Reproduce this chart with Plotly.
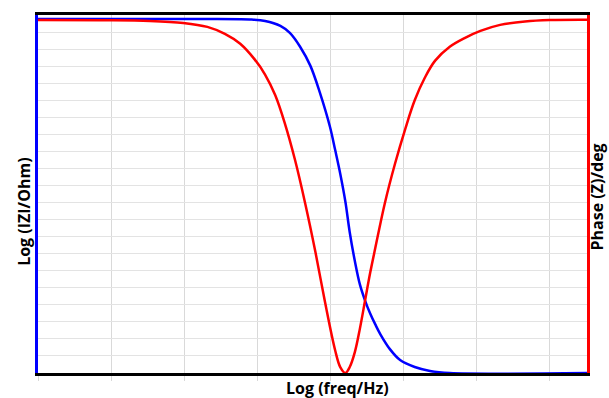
import plotly.graph_objects as go

# Log(freq/Hz) values for the impedance-magnitude series
blue_x = [-2.00, 0.22, 0.90, 1.11, 1.32, 1.45, 1.59, 1.73, 1.86, 2.00, 2.07, 2.14, 2.21,
          2.27, 2.34, 2.41, 2.48, 2.55, 2.62, 2.69, 2.82, 2.96, 3.16, 3.37, 3.64, 5.52]
# Log(|Z|/Ohm)
blue_y = [2.077, 2.077, 2.074, 2.065, 2.036, 1.995, 1.914, 1.803, 1.646, 1.443, 1.309, 1.169,
          1.006, 0.826, 0.657, 0.518, 0.425, 0.349, 0.285, 0.227, 0.140, 0.076, 0.035, 0.012,
          0.0, 0.0]

# Log(freq/Hz) values for the phase series
red_x = [-2.00, -1.15, -0.47, -0.01, 0.32, 0.56, 0.77, 0.97, 1.11, 1.25, 1.38, 1.52, 1.66,
         1.80, 1.93, 2.07, 2.14, 2.21, 2.27, 2.34, 2.41, 2.48, 2.55, 2.62, 2.75, 2.89, 3.03,
         3.16, 3.30, 3.44, 3.64, 3.85, 4.06, 4.33, 4.67, 5.01, 5.52]
# Phase(Z)/deg
red_y = [-1.25, -1.32, -1.49, -1.99, -2.99, -4.74, -7.23, -11.22, -14.96, -20.19, -27.17,
         -36.40, -47.37, -59.58, -72.05, -84.27, -88.50, -90.00, -88.50, -84.76, -78.78,
         -71.80, -64.82, -58.59, -47.37, -37.40, -28.67, -21.44, -15.71, -11.47, -7.98,
         -5.73, -3.99, -2.49, -1.62, -1.25, -1.17]

x_title = "Log (freq/Hz)"
y_title = "Log (IZI/Ohm)"
y2_title = "Phase (Z)/deg"

fig = go.Figure()
fig.add_trace(go.Scatter(x=blue_x, y=blue_y, mode="lines", yaxis="y",
                         line=dict(color="#0000FF", width=2.5, shape="spline", smoothing=1.0)))
fig.add_trace(go.Scatter(x=red_x, y=red_y, mode="lines", yaxis="y2",
                         line=dict(color="#FF0000", width=2.5, shape="spline", smoothing=1.0)))

font_t = dict(family="Open Sans", size=16, color="black")
fig.update_layout(
    width=609, height=398,
    margin=dict(l=38, r=22, t=12, b=25),
    plot_bgcolor="white", paper_bgcolor="white",
    showlegend=False,
    xaxis=dict(range=[-2, 5.52], tick0=0, dtick=1, showgrid=True, gridcolor="#d9d9d9",
               gridwidth=1, showticklabels=False, ticks="outside", ticklen=5,
               tickcolor="#d9d9d9", showline=True, linecolor="black", linewidth=3,
               mirror=True, zeroline=False),
    yaxis=dict(range=[0, 2.1], tick0=0, dtick=0.1, showgrid=True, gridcolor="#e3e3e3",
               gridwidth=1, showticklabels=False, ticks="", showline=True,
               linecolor="#0000FF", linewidth=3, zeroline=False),
    yaxis2=dict(range=[-90, 0], overlaying="y", side="right", showgrid=False,
                showticklabels=False, ticks="", showline=True, linecolor="#FF0000",
                linewidth=3, zeroline=False),
    annotations=[
        dict(text="<b>%s</b>" % x_title, x=0.5464, y=-0.0416, xref="paper", yref="paper",
             xanchor="center", yanchor="middle", showarrow=False, font=font_t),
        dict(text="<b>%s</b>" % y_title, x=-0.0246, y=0.4515, xref="paper", yref="paper",
             xanchor="center", yanchor="middle", showarrow=False, textangle=-90, font=font_t),
        dict(text="<b>%s</b>" % y2_title, x=1.0182, y=0.493, xref="paper", yref="paper",
             xanchor="center", yanchor="middle", showarrow=False, textangle=-90, font=font_t),
    ],
)

fig.write_html("out.html")
